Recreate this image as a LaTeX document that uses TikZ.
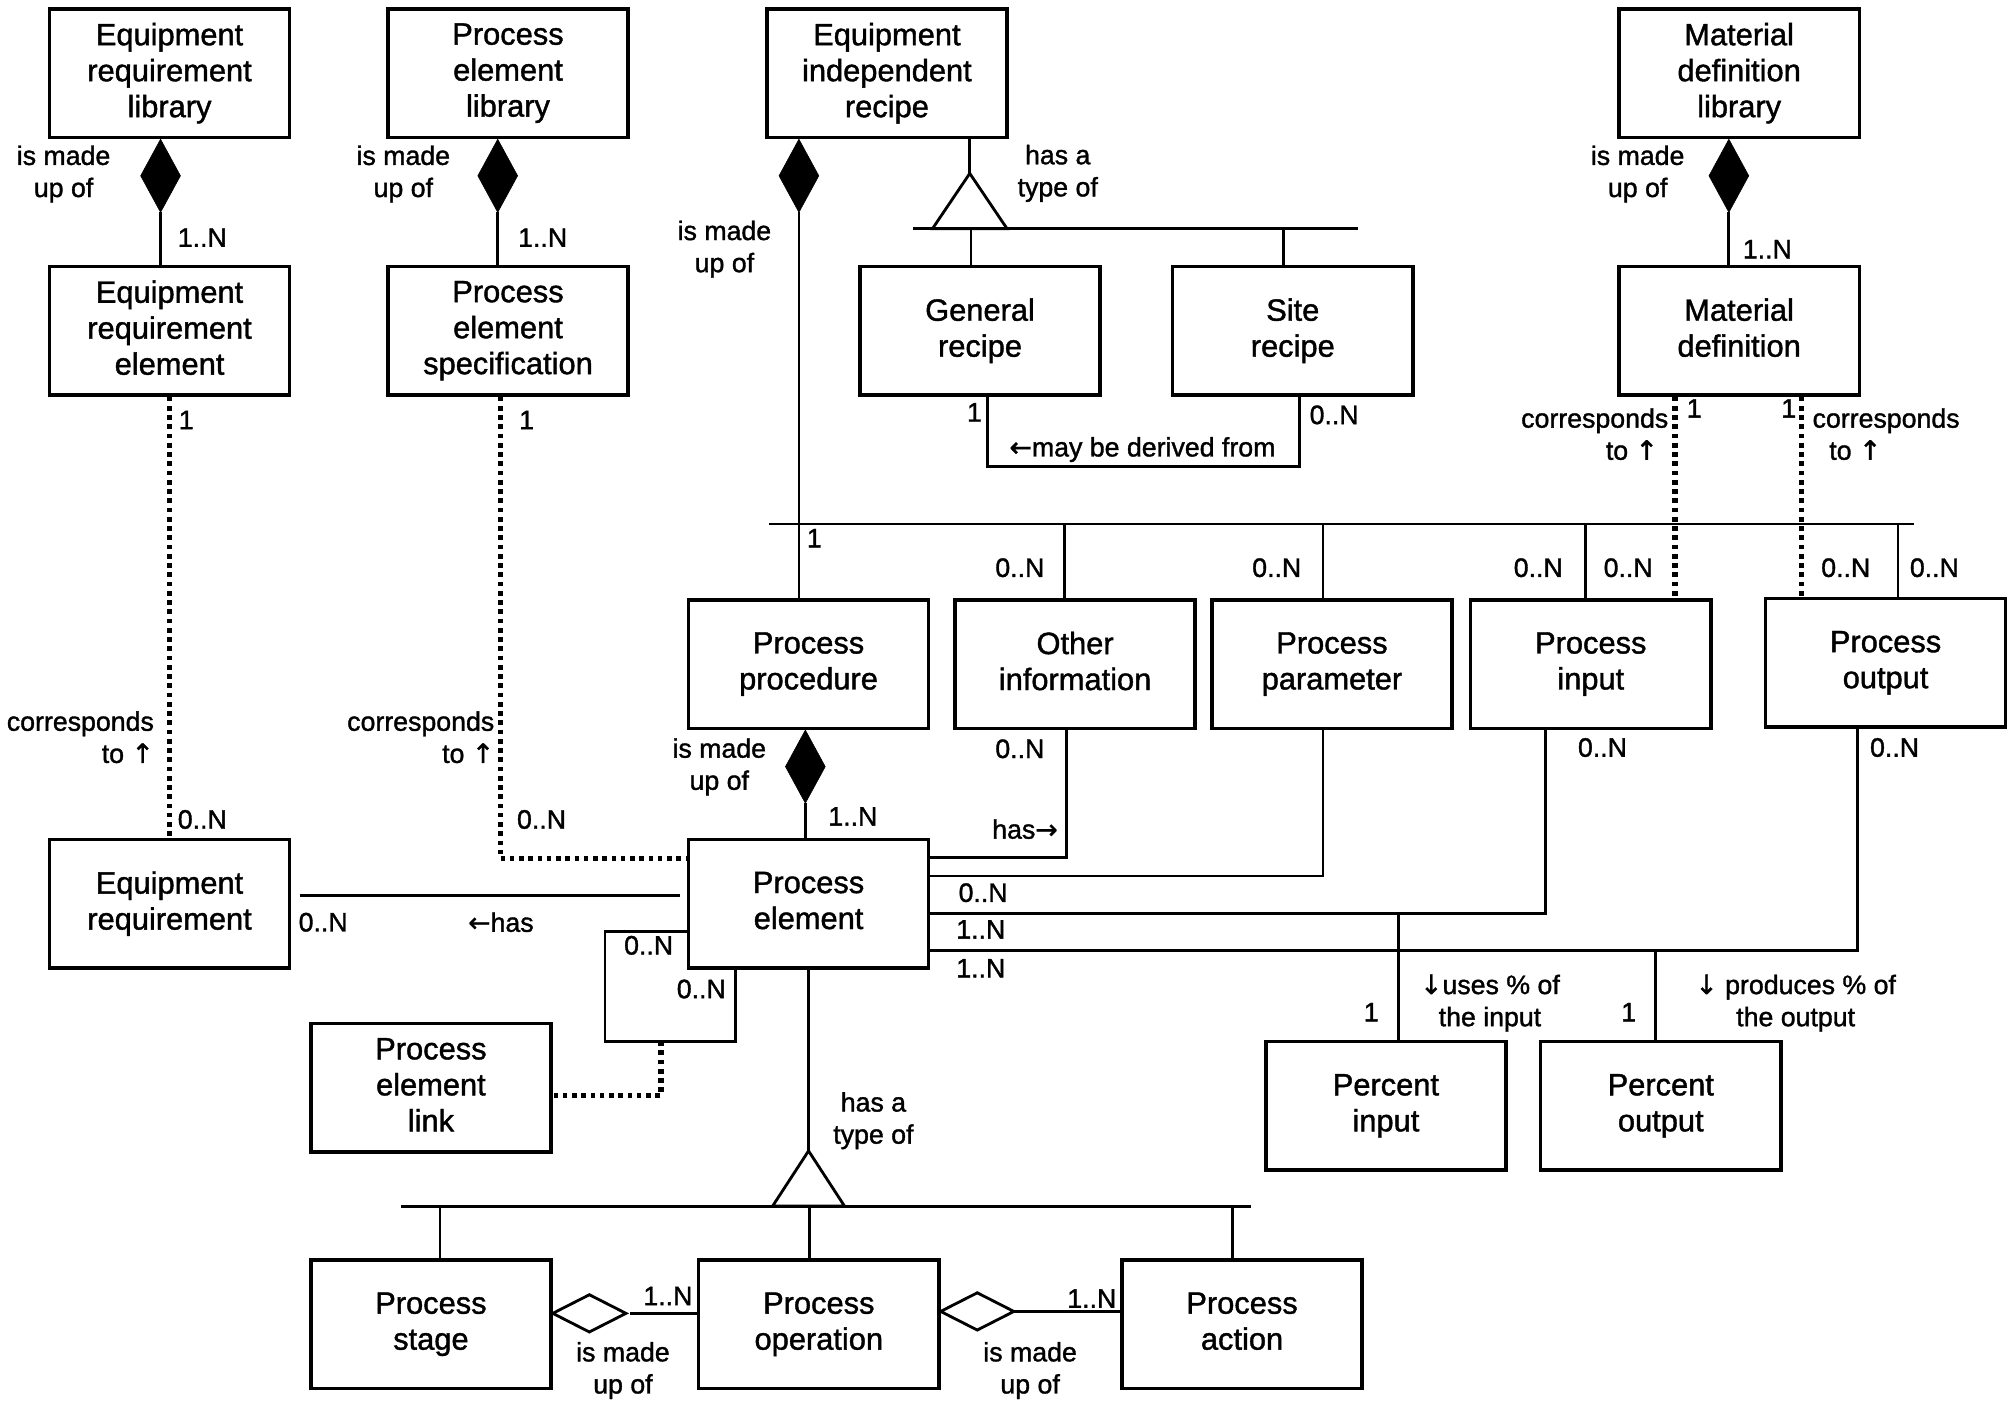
\documentclass[tikz,border=0pt]{standalone}
\usepackage{fontspec}
\setmainfont{Liberation Sans}[BoldFont={Liberation Sans},BoldFeatures={FakeBold=1.3}]
\newfontfamily\arrfam{DejaVu Sans}[BoldFont={DejaVu Sans},BoldFeatures={FakeBold=1.3}]
\usetikzlibrary{shapes.geometric}
\newcommand\bfnt{\fontsize{24pt}{28pt}\selectfont\bfseries}
\newcommand\lfnt{\fontsize{20.8pt}{25pt}\selectfont\bfseries}
\newcommand\ar[1]{{\arrfam\bfseries #1}}
\newcommand\dph{\vphantom{y}}
\begin{document}
\begin{tikzpicture}[x=1pt,y=-1pt,
  box/.style={draw, line width=2.7pt, minimum width=187pt, minimum height=100pt, inner sep=0pt, align=center, font=\bfnt},
  lbl/.style={inner sep=0pt, align=center, font=\lfnt},
  conn/.style={line width=2.2pt},
  dotl/.style={line width=4.2pt, dash pattern=on 3.6pt off 3.6pt},
  fdia/.style={diamond, fill=black, draw=black, line width=0.4pt, minimum width=31pt, minimum height=57pt, inner sep=0pt, outer sep=0pt},
  hdia/.style={diamond, draw=black, fill=white, line width=2.2pt, minimum width=57pt, minimum height=29pt, inner sep=0pt, outer sep=0pt}]
\fill[white] (0,0) rectangle (1568,1097.8);
\useasboundingbox (0,0) rectangle (1568,1097.8);

% boxes
\node[box] (erl) at (132,57) {Equipment\\requirement\\library\dph};
\node[box] (pel) at (395.5,57) {Process\\element\\library\dph};
\node[box] (eir) at (690.5,57) {Equipment\\independent\\recipe\dph};
\node[box] (mdl) at (1354,57) {Material\\definition\\library\dph};
\node[box] (ere) at (132,257.5) {Equipment\\requirement\\element\dph};
\node[box] (pes) at (395.5,257.5) {Process\\element\\specification\dph};
\node[box] (gr) at (763,257.5) {General\\recipe\dph};
\node[box] (sr) at (1006.5,257.5) {Site\\recipe\dph};
\node[box] (md) at (1354,257.5) {Material\\definition\dph};
\node[box] (pp) at (629.5,517) {Process\\procedure\dph};
\node[box] (oi) at (837,517) {Other\\information\dph};
\node[box] (ppar) at (1037,517) {Process\\parameter\dph};
\node[box] (pin) at (1238.5,517) {Process\\input\dph};
\node[box] (pout) at (1468,516) {Process\\output\dph};
\node[box] (er) at (132,703.5) {Equipment\\requirement\dph};
\node[box] (pe) at (629.5,703.5) {Process\\element\dph};
\node[box] (pelk) at (335.5,847) {Process\\element\\link\dph};
\node[box] (pci) at (1079,861) {Percent\\input\dph};
\node[box] (pco) at (1293,861) {Percent\\output\dph};
\node[box] (ps) at (335.5,1031) {Process\\stage\dph};
\node[box] (po) at (637.5,1031) {Process\\operation\dph};
\node[box] (pa) at (967,1031) {Process\\action\dph};

% composition diamonds
\node[fdia, anchor=north] (d1) at ([xshift=-7pt]erl.south) {};
\draw[conn] (d1.south) -- (d1.south |- ere.north);
\node[fdia, anchor=north] (d2) at ([xshift=-8pt]pel.south) {};
\draw[conn] (d2.south) -- (d2.south |- pes.north);
\node[fdia, anchor=north] (d3) at ([xshift=-68.5pt]eir.south) {};
\draw[conn] (d3.south) -- (d3.south |- pp.north);
\node[fdia, anchor=north] (d4) at ([xshift=-8pt]mdl.south) {};
\draw[conn] (d4.south) -- (d4.south |- md.north);
\node[fdia, anchor=north] (d5) at ([xshift=-2.5pt]pp.south) {};
\draw[conn] (d5.south) -- (d5.south |- pe.north);

% generalization top
\coordinate (ga) at (755,135);
\draw[conn] (eir.south -| ga) -- (ga);
\draw[conn] (ga) -- ++(-29,43) -- ++(58,0) -- cycle;
\coordinate (gbl) at (711,178);
\coordinate (gbr) at (1057,178);
\draw[conn] (gbl) -- (gbr);
\coordinate (g1) at (756,178);
\draw[conn] (g1) -- (g1 |- gr.north);
\coordinate (g2) at (999.5,178);
\draw[conn] (g2) -- (g2 |- sr.north);

% derived from
\coordinate (dv1) at (769,363);
\coordinate (dv2) at (1012,363);
\draw[conn] (gr.south -| dv1) -- (dv1) -- (dv2) -- (sr.south -| dv2);

% bus
\coordinate (busL) at (599,408);
\coordinate (busR) at (1490,408);
\draw[conn] (busL) -- (busR);
\coordinate (b1) at (829,408);
\draw[conn] (b1) -- (b1 |- oi.north);
\coordinate (b2) at (1030,408);
\draw[conn] (b2) -- (b2 |- ppar.north);
\coordinate (b3) at (1234.5,408);
\draw[conn] (b3) -- (b3 |- pin.north);
\coordinate (b4) at (1477.6,408);
\draw[conn] (b4) -- (b4 |- pout.north);

% dotted correspondences
\draw[dotl] (ere.south) -- (er.north);
\coordinate (pesx) at (389.5,668.6);
\draw[dotl] (pes.south -| pesx) |- (pe.west |- pesx);
\coordinate (mdx1) at (1304,400);
\draw[dotl] (md.south -| mdx1) -- (pin.north -| mdx1);
\coordinate (mdx2) at (1402.6,400);
\draw[dotl] (md.south -| mdx2) -- (pout.north -| mdx2);

% equipment requirement - process element
\draw[conn] ([xshift=7pt,yshift=6.5pt]er.east) -- ([xshift=-5pt,yshift=6.5pt]pe.west);

% links to process element right side
\coordinate (oiL) at (830,667.5);
\draw[conn] (oi.south -| oiL) |- (pe.east |- oiL);
\coordinate (ppL) at (1030,682);
\draw[conn] (ppar.south -| ppL) |- (pe.east |- ppL);
\coordinate (inL) at (1203,711);
\draw[conn] (pin.south -| inL) |- (pe.east |- inL);
\coordinate (outL) at (1446,740);
\draw[conn] (pout.south -| outL) |- (pe.east |- outL);
\coordinate (pciL) at (1088.6,711);
\draw[conn] (pciL) -- (pciL |- pci.north);
\coordinate (pcoL) at (1288.6,740);
\draw[conn] (pcoL) -- (pcoL |- pco.north);

% self loop
\coordinate (lpa) at (471,725);
\coordinate (lpb) at (572.6,810.6);
\draw[conn] (pe.west |- lpa) -| (lpa |- lpb) -| (pe.south -| lpb);
\coordinate (lk) at (514.6,810.6);
\coordinate (lky) at (400,853);
\draw[dotl] (lk) |- (pelk.east |- lky);

% generalization bottom
\coordinate (ha) at (629.5,896);
\draw[conn] (pe.south -| ha) -- (ha);
\draw[conn] (ha) -- ++(-28,43) -- ++(56,0) -- cycle;
\coordinate (hbl) at (312,939);
\coordinate (hbr) at (974,939);
\draw[conn] (hbl) -- (hbr);
\coordinate (h1) at (342.5,939);
\draw[conn] (h1) -- (h1 |- ps.north);
\coordinate (h2) at (630,939);
\draw[conn] (h2) -- (h2 |- po.north);
\coordinate (h3) at (959.5,939);
\draw[conn] (h3) -- (h3 |- pa.north);

% aggregation hollow diamonds
\node[hdia, anchor=west] (d6) at ([yshift=8.5pt]ps.east) {};
\draw[conn] ([xshift=3pt]d6.east) -- (d6.east -| po.west);
\node[hdia, anchor=west] (d7) at ([yshift=10pt]po.east) {};
\draw[conn] (d7.east) -- (d7.east -| pa.west);

% labels
\node[lbl] (l1) at (49.5,135.5) {is made\\up of};
\node[lbl] (l2) at (157.5,185) {1..N};
\node[lbl] (l3) at (314,135.5) {is made\\up of};
\node[lbl] (l4) at (422.5,185) {1..N};
\node[lbl] (l5) at (564,194) {is made\\up of};
\node[lbl] (l6) at (823.5,135) {has a\\type of};
\node[lbl] (l7) at (1275,135.5) {is made\\up of};
\node[lbl] (l8) at (1376,194) {1..N};
\node[lbl] (l9) at (145,327) {1};
\node[lbl] (l10) at (410,327) {1};
\node[lbl, align=right, anchor=east] (l11) at (120,574) {corresponds\\to \ar{↑}};
\node[lbl, align=right, anchor=east] (l12) at (385,574) {corresponds\\to \ar{↑}};
\node[lbl] (l13) at (157.5,638) {0..N};
\node[lbl] (l14) at (421.6,638) {0..N};
\node[lbl] (l15) at (758.6,321) {1};
\node[lbl] (l16) at (1038.7,323) {0..N};
\node[lbl] (l17) at (889.5,350) {\ar{←}may be derived from};
\node[lbl, align=right, anchor=east] (l18) at (1299,338) {corresponds\\to \ar{↑}\hspace*{8pt}};
\node[lbl] (l19) at (1319,318) {1};
\node[lbl] (l20) at (1392.6,318) {1};
\node[lbl, align=left, anchor=west] (l21) at (1411,338) {corresponds\\\hspace*{13pt}to \ar{↑}};
\node[lbl] (l22) at (634,419) {1};
\node[lbl] (l23a) at (794,442) {0..N};
\node[lbl] (l23b) at (994,442) {0..N};
\node[lbl] (l23c) at (1197.6,442) {0..N};
\node[lbl] (l23d) at (1267.6,442) {0..N};
\node[lbl] (l23e) at (1437,442) {0..N};
\node[lbl] (l23f) at (1506,442) {0..N};
\node[lbl] (l24) at (560,597) {is made\\up of};
\node[lbl] (l25) at (664,635.6) {1..N};
\node[lbl] (l26) at (794,583) {0..N};
\node[lbl] (l27) at (798,645.5) {has\ar{→}};
\node[lbl] (l28a) at (1247.6,582) {0..N};
\node[lbl] (l28b) at (1475,582) {0..N};
\node[lbl] (l29a) at (765.4,695) {0..N};
\node[lbl] (l29b) at (763.6,723.6) {1..N};
\node[lbl] (l29c) at (763.6,753.8) {1..N};
\node[lbl] (l30a) at (251.6,718) {0..N};
\node[lbl] (l30b) at (390,718) {\ar{←}has};
\node[lbl] (l31a) at (505,736) {0..N};
\node[lbl] (l31b) at (546,770) {0..N};
\node[lbl] (l32) at (680,872.5) {has a\\type of};
\node[lbl] (l33a) at (1067.6,788) {1};
\node[lbl] (l33b) at (1268,788) {1};
\node[lbl] (l34a) at (1160,781) {\ar{↓}uses \% of\\the input};
\node[lbl] (l34b) at (1398,781) {\ar{↓} produces \% of\\the output};
\node[lbl] (l35a) at (520,1009) {1..N};
\node[lbl] (l35b) at (485,1067) {is made\\up of};
\node[lbl] (l36a) at (850,1011) {1..N};
\node[lbl] (l36b) at (802,1067) {is made\\up of};
\end{tikzpicture}
\end{document}
